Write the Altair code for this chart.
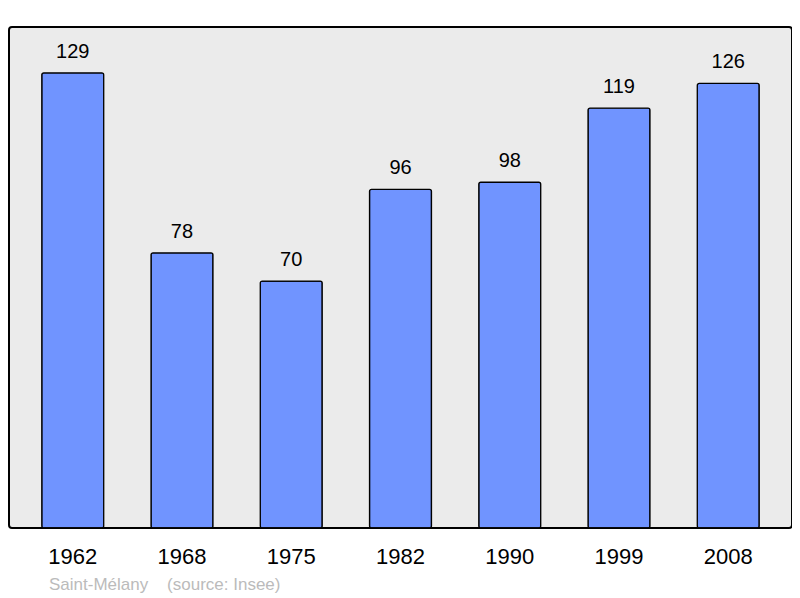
import altair as alt
import pandas as pd

years = ["1962", "1968", "1975", "1982", "1990", "1999", "2008"]
population = [129, 78, 70, 96, 98, 119, 126]

df = pd.DataFrame({"year": years, "pop": population})

x = alt.X("year:N", sort=years,
          scale=alt.Scale(paddingInner=0.433, paddingOuter=0.30),
          axis=alt.Axis(title=None, labelAngle=0, domain=False, ticks=False,
                        labelFontSize=22, labelFont="Liberation Sans", labelColor="#000",
                        labelPadding=18, grid=False))
y = alt.Y("pop:Q", scale=alt.Scale(domain=[0, 142], nice=False),
          axis=None)

bars = alt.Chart(df).mark_bar(color="#7094ff", stroke="#000", strokeWidth=1.3,
                              cornerRadius=2).encode(x=x, y=y)
labels = alt.Chart(df).mark_text(dy=-21, fontSize=20, font="Liberation Sans",
                                 color="#000").encode(x=x, y=y, text="pop:Q")

chart = (bars + labels).properties(
    width=783, height=501,
    background="white",
    padding={"left": 1, "top": 19, "right": 0, "bottom": 68},
    autosize=alt.AutoSizeParams(type="none"),
    title=alt.TitleParams("Saint-Mélany\u00a0\u00a0\u00a0\u00a0(source: Insee)", orient="bottom",
                          anchor="start", color="#bbbbbb", fontSize=17,
                          font="Liberation Sans", fontWeight="normal",
                          dx=40, offset=10),
).configure_view(fill="#ebebeb", stroke="#000", strokeWidth=2, cornerRadius=3)

chart.save("out.html", embed_options={"renderer": "svg", "actions": False})
